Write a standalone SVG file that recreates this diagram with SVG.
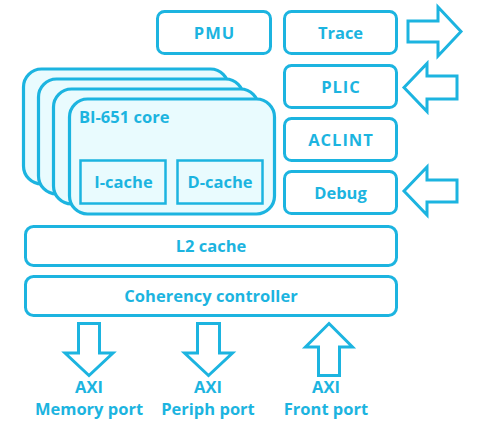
<svg xmlns="http://www.w3.org/2000/svg" width="480" height="431" viewBox="0 0 480 431">
<style>
.box{fill:#fff;stroke:#1cb4e0;stroke-width:3}
.core{fill:#e9fbfe;stroke:#1cb4e0;stroke-width:3.2}
.cache{fill:#e9fbfe;stroke:#1cb4e0;stroke-width:2.5}
.arr{fill:#fff;stroke:#1cb4e0;stroke-width:3;stroke-linejoin:miter}
text{font-family:"Open Sans","Liberation Sans",sans-serif;font-weight:bold;font-size:16.5px;fill:#1cb4e0;text-anchor:middle}
.caps{letter-spacing:1px}
</style>
<rect width="480" height="431" fill="#fff"/>
<g id="pmu"><rect class="box" x="157.5" y="11.5" width="113" height="42" rx="7"/><text class="caps" x="214.5" y="39">PMU</text></g>
<g id="trace"><rect class="box" x="284.5" y="11.5" width="112" height="42" rx="7"/><text x="340.5" y="39">Trace</text></g>
<g id="plic"><rect class="box" x="284.5" y="65.5" width="112" height="42" rx="7"/><text class="caps" x="341" y="93">PLIC</text></g>
<g id="aclint"><rect class="box" x="284.5" y="118.5" width="112" height="42" rx="7"/><text class="caps" x="341" y="146">ACLINT</text></g>
<g id="debug"><rect class="box" x="284.5" y="171.5" width="112" height="42" rx="7"/><text x="340.5" y="199">Debug</text></g>
<g id="cores">
<rect class="core" x="23.5" y="69" width="205" height="115" rx="18"/>
<rect class="core" x="38.5" y="79" width="205" height="115" rx="18"/>
<rect class="core" x="53.5" y="89" width="205" height="115" rx="18"/>
<rect class="core" x="69.5" y="99" width="205" height="115" rx="18"/>
<text x="79" y="123" style="text-anchor:start">BI-651 core</text>
</g>
<g id="icache"><rect class="cache" x="80.5" y="160.5" width="85" height="43"/><text x="123.5" y="188">I-cache</text></g>
<g id="dcache"><rect class="cache" x="177.5" y="160.5" width="85" height="43"/><text x="220" y="188">D-cache</text></g>
<g id="l2"><rect class="box" x="25.5" y="226.5" width="371" height="39" rx="8"/><text x="211" y="252">L2 cache</text></g>
<g id="coherency"><rect class="box" x="25.5" y="276.5" width="371" height="39" rx="8"/><text x="211" y="302">Coherency controller</text></g>
<g id="connectors">
<polygon class="arr" points="408,21 438,21 438,7 461,31.5 438,56 438,42 408,42"/>
<polygon class="arr" points="404,87.5 427,63.5 427,76 457,76 457,99 427,99 427,111.5"/>
<polygon class="arr" points="404,191 427,167 427,180 457,180 457,202 427,202 427,215"/>
<polygon class="arr" points="78.5,323.5 99.5,323.5 99.5,353 113,353 89,375.5 65,353 78.5,353"/>
<polygon class="arr" points="197.5,323.5 219.5,323.5 219.5,353 232.5,353 208.5,375.5 184.5,353 197.5,353"/>
<polygon class="arr" points="329,323.5 352.5,347 339.5,347 339.5,375.5 318.5,375.5 318.5,347 305.5,347"/>
</g>
<g id="ports">
<text x="89" y="393">AXI</text><text x="89" y="415">Memory port</text>
<text x="208" y="393">AXI</text><text x="208" y="415">Periph port</text>
<text x="326" y="393">AXI</text><text x="326" y="415">Front port</text>
</g>
</svg>
